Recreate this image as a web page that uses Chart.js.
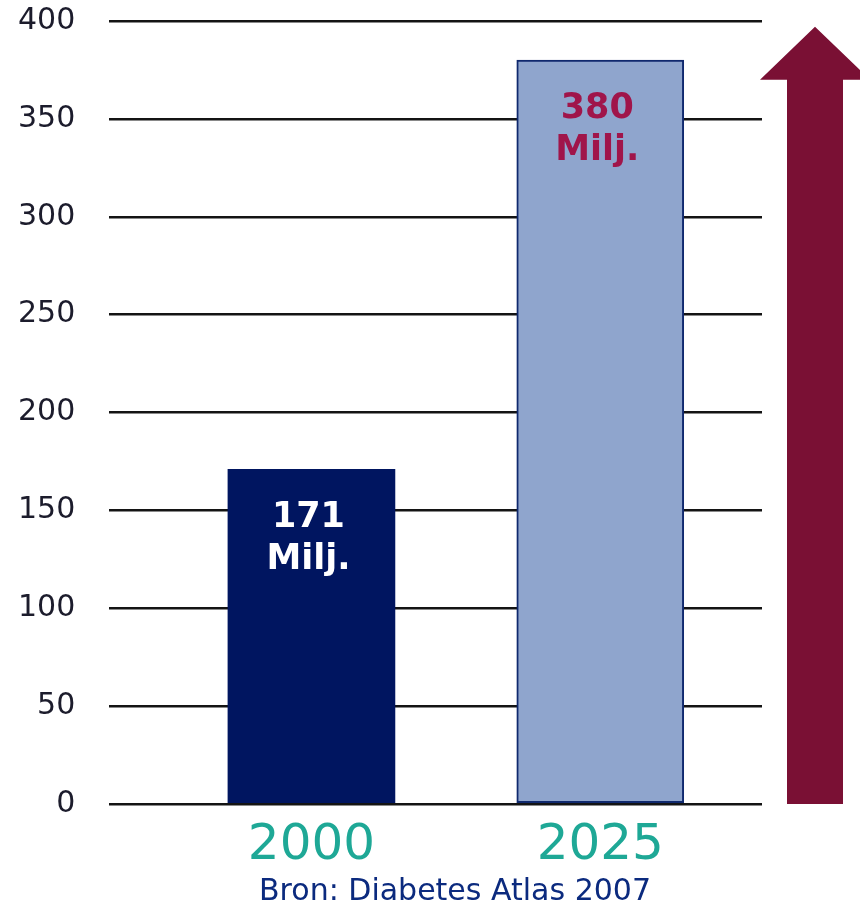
<!DOCTYPE html>
<html>
<head>
<meta charset="utf-8">
<script src="https://cdn.jsdelivr.net/npm/chart.js@4.4.0/dist/chart.umd.min.js"></script>
<style>
  body { margin: 0; background: #fff; }
  canvas { display: block; }
</style>
</head>
<body>
<canvas id="chart" width="860" height="905"></canvas>
<script>
// data
const years = [2000, 2025];
const values = [171, 380];
const barLabels = [['171', 'Milj.'], ['380', 'Milj.']];
const barColors = ['#001560', '#8fa5cd'];
const barBorders = ['#001560', '#10296e'];
const labelColors = ['#ffffff', '#a0154a'];
const source = 'Bron: Diabetes Atlas 2007';
const arrowTip = 397;   // value where the arrow point sits
const arrowNeck = 370;  // value where the arrow head starts

const extras = {
  id: 'extras',
  afterDatasetsDraw(chart) {
    const ctx = chart.ctx;
    const meta = chart.getDatasetMeta(0);
    ctx.save();
    ctx.font = 'bold 35px "DejaVu Sans"';
    ctx.textAlign = 'center';
    ctx.textBaseline = 'middle';
    meta.data.forEach((bar, i) => {
      ctx.fillStyle = labelColors[i];
      ctx.fillText(barLabels[i][0], bar.x - 3, bar.y + 49);
      ctx.fillText(barLabels[i][1], bar.x - 3, bar.y + 91);
    });

    // arrow on the right
    const y = chart.scales.y;
    const base = y.getPixelForValue(0);
    const tip = y.getPixelForValue(arrowTip);
    const neck = y.getPixelForValue(arrowNeck);
    const cx = chart.chartArea.right + 53;
    ctx.fillStyle = '#7a1034';
    ctx.beginPath();
    ctx.moveTo(cx - 28, base);
    ctx.lineTo(cx - 28, neck);
    ctx.lineTo(cx - 55, neck);
    ctx.lineTo(cx, tip);
    ctx.lineTo(cx + 55, neck);
    ctx.lineTo(cx + 28, neck);
    ctx.lineTo(cx + 28, base);
    ctx.closePath();
    ctx.fill();

    // source line
    ctx.font = '30px "DejaVu Sans"';
    ctx.fillStyle = '#0b2a7e';
    ctx.textBaseline = 'alphabetic';
    ctx.fillText(source, 455, 900);
    ctx.restore();
  }
};

new Chart(document.getElementById('chart'), {
  type: 'bar',
  data: {
    datasets: [{
      data: years.map((yr, i) => ({ x: yr, y: values[i] })),
      backgroundColor: barColors,
      borderColor: barBorders,
      borderWidth: [0, 2],
      borderSkipped: false,
      barThickness: 167,
    }],
  },
  options: {
    responsive: false,
    animation: false,
    layout: { padding: { left: 15, right: 98, top: 1, bottom: 17 } },
    plugins: { legend: { display: false }, tooltip: { enabled: false } },
    scales: {
      x: {
        type: 'linear',
        offset: false,
        bounds: 'data',
        min: 1982.5,
        max: 2039,
        afterBuildTicks: (scale) => { scale.ticks = years.map((v) => ({ value: v })); },
        grid: { display: false, offset: false, drawTicks: false },
        border: { display: false },
        ticks: {
          callback: (v) => String(v),
          color: '#1ea896',
          font: { family: 'DejaVu Sans', size: 50 },
          padding: 12,
        },
      },
      y: {
        min: 0,
        max: 400,
        ticks: {
          stepSize: 50,
          color: '#1c1c2c',
          font: { family: 'DejaVu Sans', size: 30 },
          padding: 3,
        },
        grid: { color: '#141414', lineWidth: 2.5, drawTicks: true, tickLength: 31, tickColor: 'transparent' },
        border: { display: false },
      },
    },
  },
  plugins: [extras],
});
</script>
</body>
</html>
